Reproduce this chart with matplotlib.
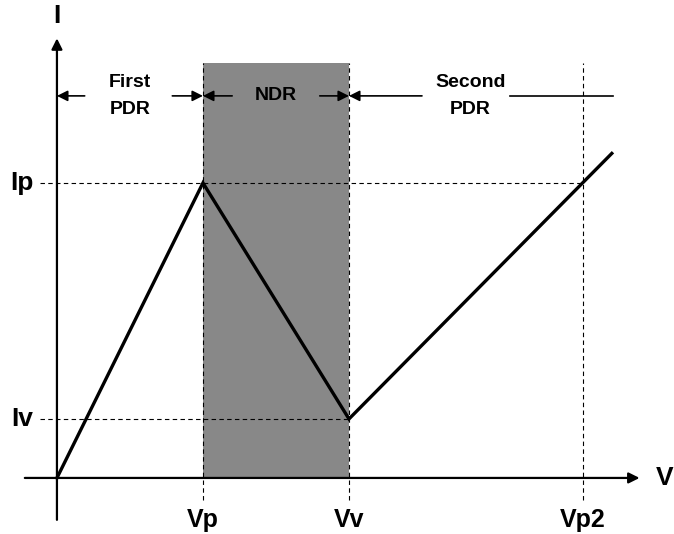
import matplotlib
matplotlib.use("Agg")
import matplotlib.pyplot as plt

# I-V characteristic (arbitrary units, Vp = Ip = 1)
v_pts = [0.0, 1.0, 2.0, 3.8]
i_pts = [0.0, 1.0, 0.2, 1.1]

v_ticks = [1.0, 2.0, 3.6]
v_labels = ["Vp", "Vv", "Vp2"]
i_ticks = [1.0, 0.2]
i_labels = ["Ip", "Iv"]

regions = ["First\nPDR", "NDR", "Second\nPDR"]
region_x = [0.5, 1.5, 2.83]

plt.rcParams['font.family'] = ['Liberation Sans', 'DejaVu Sans']
plt.rcParams['font.weight'] = 'bold'

fig = plt.figure(figsize=(6.74, 5.34), dpi=100)
ax = fig.add_axes([0, 0, 1, 1])
ax.set_xlim(-0.39, 4.226)
ax.set_ylim(-0.19, 1.62)
ax.axis("off")

top = 1.407
row = 1.295
arr = dict(arrowstyle="-|>", color="k", lw=1.2, mutation_scale=16,
           shrinkA=0, shrinkB=0)

# shaded NDR region
ax.axvspan(v_pts[1], v_pts[2], ymin=(0 + 0.19) / 1.81, ymax=(top + 0.19) / 1.81,
           color="#888888", lw=0, zorder=0)

# axes with arrows
ax.annotate("", xy=(0, 1.49), xytext=(0, -0.142),
            arrowprops=dict(arr, lw=1.6))
ax.annotate("", xy=(3.99, 0), xytext=(-0.22, 0),
            arrowprops=dict(arr, lw=1.6))
ax.text(0, 1.565, "I", ha="center", va="center", fontsize=19, fontweight="bold")
ax.text(4.16, 0, "V", ha="center", va="center", fontsize=19, fontweight="bold")

# dashed guides
for v in v_ticks:
    ax.plot([v, v], [-0.075, top], ls=(0, (4, 3)), color="k", lw=0.8, zorder=2)
ax.plot([-0.116, v_ticks[2]], [i_ticks[0], i_ticks[0]], ls=(0, (4, 3)),
        color="k", lw=0.8, zorder=2)
ax.plot([-0.116, v_ticks[1]], [i_ticks[1], i_ticks[1]], ls=(0, (4, 3)),
        color="k", lw=0.8, zorder=2)

# tick labels
for v, lab in zip(v_ticks, v_labels):
    ax.text(v, -0.142, lab, ha="center", va="center", fontsize=18, fontweight="bold")
for i, lab in zip(i_ticks, i_labels):
    ax.text(-0.24, i, lab, ha="center", va="center", fontsize=19, fontweight="bold")

# curve
ax.plot(v_pts, i_pts, color="k", lw=2.4, solid_joinstyle="miter", zorder=3)

# region arrows
ax.annotate("", xy=(0, row), xytext=(0.19, row), arrowprops=arr)
ax.annotate("", xy=(1.0, row), xytext=(0.79, row), arrowprops=arr)
ax.annotate("", xy=(1.0, row), xytext=(1.2, row), arrowprops=arr)
ax.annotate("", xy=(2.0, row), xytext=(1.8, row), arrowprops=arr)
ax.annotate("", xy=(2.0, row), xytext=(2.5, row), arrowprops=arr)
ax.plot([3.1, 3.81], [row, row], color="k", lw=1.2)

for x, lab in zip(region_x, regions):
    ax.text(x, row, lab, ha="center", va="center", fontsize=14,
            fontweight="bold", linespacing=1.8)

fig.savefig("out.png", dpi=100)
